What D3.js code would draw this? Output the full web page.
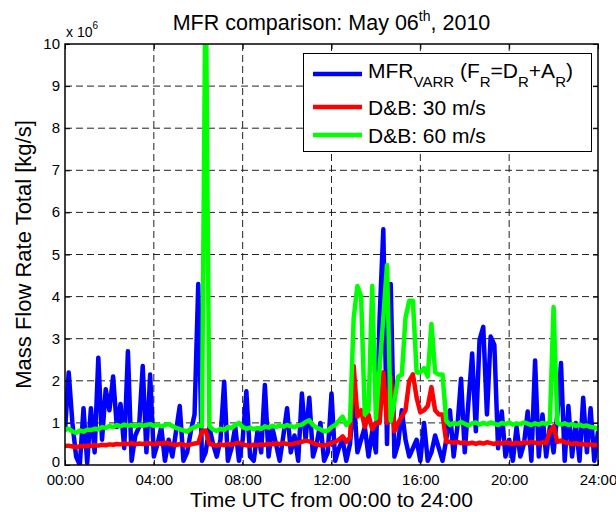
<!DOCTYPE html>
<html>
<head>
<meta charset="utf-8">
<script src="https://d3js.org/d3.v7.min.js"></script>
<style>
  body { margin: 0; background: #fff; }
  text { font-family: "Liberation Sans", Arial, sans-serif; fill: #000; }
</style>
</head>
<body>
<svg width="616" height="512"></svg>
<script>

// samples every 10 minutes, 00:00 .. 24:00 (values in 10^6 kg/s)
const stepMinutes = 10;

const mfrVarr = [
  0.8, 2.2, 1.0, 0.2, 0.0, 1.35, 0.05, 1.35, 0.3, 2.55,
  0.6, 1.8, 1.3, 2.1, 0.9, 1.45, 0.4, 2.7, 0.1, 0.7,
  0.9, 2.35, 0.3, 2.15, 0.2, 0.5, 0.9, 0.1, 0.6, 0.2,
  0.8, 1.4, 0.1, 0.3, 0.8, 1.2, 4.3, 0.1, 0.3, 0.9,
  0.5, 0.2, 0.6, 1.98, 0.1, 0.4, 0.9, 0.1, 0.6, 1.75,
  0.2, 0.1, 0.8, 0.3, 1.9, 0.2, 0.9, 0.5, 0.1, 0.7,
  1.35, 0.3, 0.7, 0.1, 1.7, 0.6, 1.6, 0.2, 0.5, 1.0,
  0.1, 0.3, 1.7, 0.1, 0.4, 0.6, 0.1, 0.5, 1.6, 0.3,
  0.6, 0.9, 0.2, 0.8, 0.3, 3.5, 5.6, 0.5, 4.3, 0.2,
  0.5, 1.3, 0.6, 0.2, 0.4, 0.6, 0.1, 1.0, 0.1, 0.3,
  0.7, 0.4, 0.1, 0.6, 1.3, 0.2, 0.9, 2.05, 0.3, 1.5,
  2.65, 0.8, 2.97, 3.28, 1.2, 3.05, 2.85, 0.4, 1.27, 0.2,
  0.6, 0.1, 0.9, 0.2, 0.5, 1.27, 0.1, 2.48, 0.2, 1.2,
  0.2, 0.9, 0.3, 1.2, 2.42, 0.1, 1.4, 0.2, 1.0, 0.1,
  1.6, 0.3, 1.35, 0.1, 0.8
];

const db30 = [
  0.45, 0.46, 0.44, 0.42, 0.45, 0.44, 0.46, 0.45, 0.47, 0.46,
  0.48, 0.47, 0.49, 0.48, 0.50, 0.49, 0.51, 0.50, 0.52, 0.49,
  0.51, 0.50, 0.52, 0.51, 0.49, 0.52, 0.50, 0.53, 0.51, 0.49,
  0.47, 0.50, 0.48, 0.46, 0.49, 0.51, 0.52, 0.80, 0.82, 0.50,
  0.48, 0.46, 0.49, 0.47, 0.50, 0.48, 0.51, 0.53, 0.49, 0.47,
  0.46, 0.48, 0.47, 0.49, 0.48, 0.50, 0.49, 0.51, 0.50, 0.52,
  0.50, 0.49, 0.51, 0.53, 0.55, 0.58, 0.56, 0.52, 0.49, 0.47,
  0.46, 0.49, 0.52, 0.55, 0.60, 0.68, 0.55, 0.65, 2.35, 1.15,
  1.3, 0.9, 1.2, 0.85, 1.0, 1.0, 2.2, 1.0, 2.1, 0.8,
  1.0, 1.15, 1.3, 2.0, 2.15, 1.6, 1.25, 1.3, 1.4, 1.85,
  1.3, 1.2, 1.2, 0.55, 0.55, 0.53, 0.55, 0.52, 0.54, 0.51,
  0.53, 0.50, 0.53, 0.51, 0.54, 0.52, 0.50, 0.53, 0.51, 0.54,
  0.52, 0.50, 0.53, 0.51, 0.54, 0.52, 0.55, 0.53, 0.51, 0.54,
  0.52, 0.80, 0.92, 0.55, 0.58, 0.54, 0.52, 0.50, 0.52, 0.49,
  0.50, 0.48, 0.49, 0.47, 0.48
];

const db60 = [
  0.85, 0.86, 0.80, 0.76, 0.82, 0.79, 0.84, 0.83, 0.86, 0.85,
  0.90, 0.88, 0.93, 0.90, 0.95, 0.92, 0.96, 0.93, 0.95, 0.92,
  0.96, 0.93, 0.95, 0.97, 0.93, 0.96, 0.92, 0.95, 0.97, 0.93,
  0.88, 0.85, 0.82, 0.79, 0.86, 0.90, 0.94, 0.92, 12, 0.92,
  0.84, 0.81, 0.86, 0.83, 0.90, 0.88, 0.95, 1.00, 0.90, 0.86,
  0.89, 0.85, 0.88, 0.86, 0.92, 0.89, 0.93, 0.90, 0.94, 0.91,
  0.95, 0.92, 0.90, 0.94, 0.96, 1.02, 1.06, 0.95, 0.88, 0.85,
  0.80, 0.82, 0.90, 0.95, 1.05, 1.15, 0.95, 1.05, 3.5, 4.25,
  4.0, 1.2, 1.3, 4.25, 1.1, 2.3, 3.5, 4.75, 1.05, 1.5,
  2.1, 2.15, 3.5, 3.9, 3.9, 2.2, 2.2, 2.3, 2.1, 3.35,
  2.2, 2.15, 2.15, 1.05, 0.95, 1.00, 0.97, 1.02, 0.98, 0.94,
  0.99, 1.01, 0.96, 1.00, 0.97, 1.01, 0.98, 0.95, 1.00, 0.97,
  1.01, 0.96, 0.99, 0.97, 1.01, 0.98, 0.95, 0.99, 0.96, 1.00,
  0.97, 1.02, 3.75, 1.00, 0.96, 0.99, 0.95, 0.97, 0.93, 0.96,
  0.92, 0.94, 0.90, 0.89, 0.86
];

const xTickHours = [0, 4, 8, 12, 16, 20, 24];
const xTickLabels = ['00:00', '04:00', '08:00', '12:00', '16:00', '20:00', '24:00'];
const yTicks = [0, 1, 2, 3, 4, 5, 6, 7, 8, 9, 10];

const seriesNames = ['MFR', 'D&B: 30 m/s', 'D&B: 60 m/s'];
const seriesColors = ['#0000ff', '#ff0000', '#00ff00'];

const svg = d3.select('svg');
const plotLeft = 65, plotRight = 598, plotTop = 44, plotBottom = 465;

const x = d3.scaleLinear().domain([0, 24]).range([plotLeft, plotRight]);
const y = d3.scaleLinear().domain([0, 10]).range([plotBottom, plotTop]);

// grid
const grid = svg.append('g')
  .attr('stroke', '#222')
  .attr('stroke-width', 1)
  .attr('stroke-dasharray', '7,4');

grid.selectAll('line.v')
  .data(xTickHours.slice(1, -1))
  .enter().append('line')
  .attr('x1', d => x(d)).attr('x2', d => x(d))
  .attr('y1', plotTop).attr('y2', plotBottom);

grid.selectAll('line.h')
  .data(yTicks.slice(1, -1))
  .enter().append('line')
  .attr('x1', plotLeft).attr('x2', plotRight)
  .attr('y1', d => y(d)).attr('y2', d => y(d));

// data lines
svg.append('clipPath').attr('id', 'plot-clip')
  .append('rect')
  .attr('x', plotLeft).attr('y', plotTop)
  .attr('width', plotRight - plotLeft).attr('height', plotBottom - plotTop);

const line = d3.line()
  .x((d, i) => x(i * stepMinutes / 60))
  .y(d => y(d));

const lines = svg.append('g').attr('clip-path', 'url(#plot-clip)');

[mfrVarr, db30, db60].forEach((vals, k) => {
  lines.append('path')
    .datum(vals)
    .attr('d', line)
    .attr('fill', 'none')
    .attr('stroke', seriesColors[k])
    .attr('stroke-width', 4.5)
    .attr('stroke-linejoin', 'round');
});

// axes, ticks inside like matlab
const styleAxis = g => {
  g.select('.domain').remove();
  g.selectAll('.tick line').attr('stroke', '#000');
  g.selectAll('text')
    .attr('font-family', '"Liberation Sans", Arial, sans-serif')
    .attr('font-size', 15)
    .attr('fill', '#000');
};

svg.append('g')
  .attr('transform', `translate(0,${plotBottom})`)
  .call(d3.axisBottom(x).tickValues(xTickHours)
    .tickFormat((d, i) => xTickLabels[i])
    .tickSizeInner(-5).tickSizeOuter(0).tickPadding(9))
  .call(styleAxis);

svg.append('g')
  .attr('transform', `translate(0,${plotTop})`)
  .call(d3.axisTop(x).tickValues(xTickHours).tickFormat('')
    .tickSizeInner(-5).tickSizeOuter(0))
  .call(styleAxis);

// the "0" label sits a touch higher so it clears "00:00"
svg.append('g')
  .attr('transform', `translate(${plotLeft},0)`)
  .call(d3.axisLeft(y).tickValues(yTicks)
    .tickSizeInner(-5).tickSizeOuter(0).tickPadding(5))
  .call(styleAxis)
  .call(g => g.selectAll('text').attr('dy', d => d === 0 ? '0.1em' : '0.3em'));

svg.append('g')
  .attr('transform', `translate(${plotRight},0)`)
  .call(d3.axisRight(y).tickValues(yTicks).tickFormat('')
    .tickSizeInner(-5).tickSizeOuter(0))
  .call(styleAxis);

svg.append('rect')
  .attr('x', plotLeft).attr('y', plotTop)
  .attr('width', plotRight - plotLeft).attr('height', plotBottom - plotTop)
  .attr('fill', 'none')
  .attr('stroke', '#000')
  .attr('stroke-width', 1.5);

// exponent label
const expo = svg.append('text')
  .attr('x', 66).attr('y', 37)
  .attr('font-size', 14);
expo.append('tspan').text('x 10');
expo.append('tspan').attr('font-size', 10).attr('dy', -8).text('6');

// title
const title = svg.append('text')
  .attr('x', (plotLeft + plotRight) / 2).attr('y', 30)
  .attr('text-anchor', 'middle')
  .attr('font-size', 21.5);
title.append('tspan').text('MFR comparison: May 06');
title.append('tspan').attr('font-size', 14).attr('dy', -9).text('th');
title.append('tspan').attr('dy', 9).text(', 2010');

// axis labels
svg.append('text')
  .attr('x', (plotLeft + plotRight) / 2).attr('y', 507)
  .attr('text-anchor', 'middle')
  .attr('font-size', 21)
  .text('Time UTC from 00:00 to 24:00');

svg.append('text')
  .attr('transform', `translate(31,${(plotTop + plotBottom) / 2}) rotate(-90)`)
  .attr('text-anchor', 'middle')
  .attr('font-size', 22)
  .text('Mass Flow Rate Total [kg/s]');

// legend
const legend = svg.append('g');
legend.append('rect')
  .attr('x', 303.5).attr('y', 53.5)
  .attr('width', 288).attr('height', 98)
  .attr('fill', '#fff')
  .attr('stroke', '#000')
  .attr('stroke-width', 1);

const rowY = [74, 107, 135];
seriesNames.forEach((name, k) => {
  legend.append('line')
    .attr('x1', 313).attr('x2', 362)
    .attr('y1', rowY[k]).attr('y2', rowY[k])
    .attr('stroke', seriesColors[k])
    .attr('stroke-width', 4.5);
});

// first entry carries subscripts
const firstParts = [
  ['MFR', false], ['VARR', true], [' (F', false], ['R', true],
  ['=D', false], ['R', true], ['+A', false], ['R', true], [')', false]
];
const t0 = legend.append('text')
  .attr('x', 368).attr('y', rowY[0] + 4)
  .attr('font-size', 21);
let prevSub = false;
firstParts.forEach(([s, sub]) => {
  const dy = sub && !prevSub ? 9 : (!sub && prevSub ? -9 : 0);
  t0.append('tspan')
    .attr('dy', dy)
    .attr('font-size', sub ? 15 : 21)
    .text(s);
  prevSub = sub;
});

seriesNames.slice(1).forEach((name, k) => {
  legend.append('text')
    .attr('x', 368).attr('y', rowY[k + 1] + 8)
    .attr('font-size', 21)
    .text(name);
});

</script>
</body>
</html>
